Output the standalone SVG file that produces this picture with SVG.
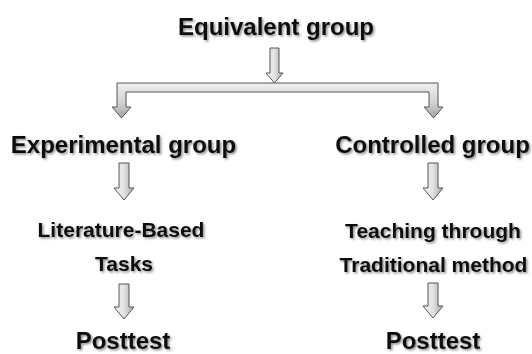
<svg xmlns="http://www.w3.org/2000/svg" width="532" height="354" viewBox="0 0 532 354">
<defs>
<filter id="sh" x="-10%" y="-30%" width="120%" height="160%">
<feDropShadow dx="1.5" dy="1.5" stdDeviation="1.2" flood-color="#000" flood-opacity="0.45"/>
</filter>
<linearGradient id="gv" x1="0" y1="0" x2="1" y2="0">
<stop offset="0" stop-color="#f4f4f4"/>
<stop offset="0.5" stop-color="#e2e2e2"/>
<stop offset="1" stop-color="#a8a8a8"/>
</linearGradient>
<linearGradient id="gh" x1="0" y1="0" x2="0" y2="1">
<stop offset="0" stop-color="#f0f0f0"/>
<stop offset="0.6" stop-color="#d0d0d0"/>
<stop offset="1" stop-color="#a0a0a0"/>
</linearGradient>
</defs>
<style>
text{font-family:"Liberation Sans",Arial,sans-serif;font-weight:bold;fill:#111;text-anchor:middle;filter:url(#sh)}
.big{font-size:24px}
.mid{font-size:21px}
.arrow{fill:url(#gv);stroke:#555;stroke-width:1}
.bar{fill:url(#gh);stroke:#555;stroke-width:1}
</style>
<g id="connectors">
<path class="bar" d="M117,83 H438 V107 H443 L433.5,118 L424,107 H429 V92 H126 V107 H131 L121.5,118 L112,107 H117 Z"/>
<path class="arrow" d="M270,48 H279 V73 H283 L274.5,83 L266,73 H270 Z"/>
<path class="arrow" d="M119,163 H129 V188 H134 L124,200 L114,188 H119 Z"/>
<path class="arrow" d="M119,284 H129 V307 H134 L124,319 L114,307 H119 Z"/>
<path class="arrow" d="M428,163 H438 V188 H443 L433,200 L423,188 H428 Z"/>
<path class="arrow" d="M428,283 H438 V306 H443 L433,318 L423,306 H428 Z"/>
</g>
<g id="equivalent"><text class="big" x="276" y="35">Equivalent group</text></g>
<g id="experimental"><text class="big" x="123.5" y="153">Experimental group</text></g>
<g id="controlled"><text class="big" x="432.5" y="153">Controlled group</text></g>
<g id="literature"><text class="mid" x="121" y="237">Literature-Based</text><text class="mid" x="124" y="271">Tasks</text></g>
<g id="teaching"><text class="mid" x="433" y="238">Teaching through</text><text class="mid" x="433.5" y="272">Traditional method</text></g>
<g id="posttest-left"><text class="big" x="123" y="349">Posttest</text></g>
<g id="posttest-right"><text class="big" x="433" y="349">Posttest</text></g>
</svg>
